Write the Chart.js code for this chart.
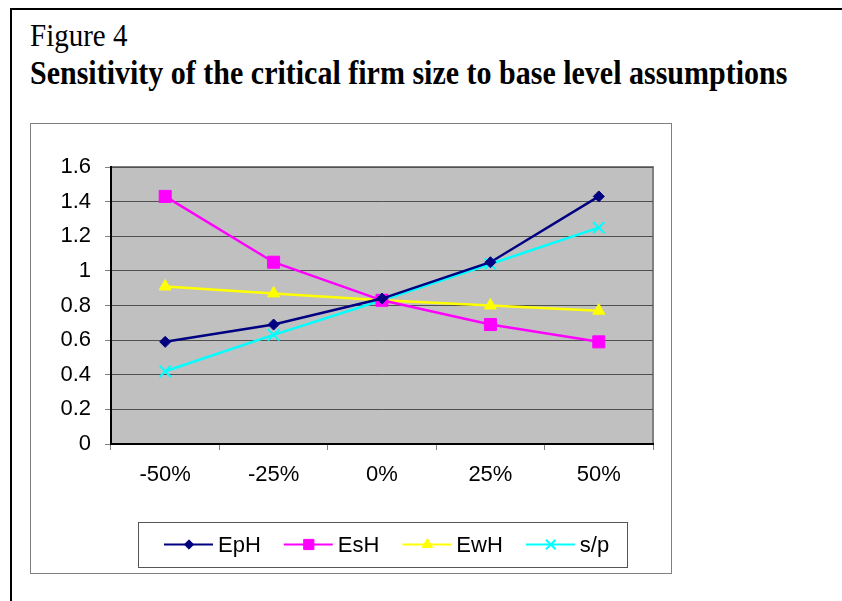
<!DOCTYPE html>
<html>
<head>
<meta charset="utf-8">
<script src="https://cdn.jsdelivr.net/npm/chart.js@4.4.0/dist/chart.umd.min.js"></script>
<style>
  body { margin: 0; background: #fff; width: 842px; height: 601px; overflow: hidden; position: relative; }
  #frame { position: absolute; left: 10px; top: 8px; width: 840px; height: 600px; border-left: 2px solid #000; border-top: 2px solid #000; }
  #fig { position: absolute; left: 30px; top: 20px; font-family: "Liberation Serif", "Times New Roman", serif; font-size: 29px; line-height: 1; color: #000; transform: scaleY(1.1); transform-origin: left top; }
  #title { position: absolute; left: 30px; top: 56px; font-family: "Liberation Serif", "Times New Roman", serif; font-size: 30px; line-height: 1; font-weight: bold; color: #000; white-space: nowrap; transform: scaleY(1.1); transform-origin: left top; }
  #box { position: absolute; left: 30px; top: 123px; width: 640px; height: 449px; border: 1px solid #808080; }
  #box canvas { position: absolute; left: 0; top: 0; }
</style>
</head>
<body>
<div id="frame"></div>
<div id="fig">Figure 4</div>
<div id="title">Sensitivity of the critical firm size to base level assumptions</div>
<div id="box"><canvas id="chart" width="640" height="449"></canvas></div>
<script>
const categories = ["-50%", "-25%", "0%", "25%", "50%"];
const eph = [0.59, 0.69, 0.84, 1.05, 1.43];
const esh = [1.43, 1.05, 0.83, 0.69, 0.59];
const ewh = [0.91, 0.87, 0.83, 0.80, 0.77];
const sp = [0.42, 0.63, 0.83, 1.04, 1.25];
const yTicks = [0, 0.2, 0.4, 0.6, 0.8, 1, 1.2, 1.4, 1.6];

// gray plot background + plot border
const plotBg = {
    id: "plotBg",
    beforeDraw(chart) {
        const { ctx, chartArea: a } = chart;
        ctx.save();
        ctx.fillStyle = "#c0c0c0";
        ctx.fillRect(a.left, a.top, a.right - a.left, a.bottom - a.top);
        ctx.strokeStyle = "#808080";
        ctx.lineWidth = 2;
        ctx.beginPath();
        ctx.moveTo(a.left, a.top);
        ctx.lineTo(a.right, a.top);
        ctx.lineTo(a.right, a.bottom);
        ctx.stroke();
        ctx.restore();
    }
};

// boxed legend with line + marker, drawn below the axis
const boxLegend = {
    id: "boxLegend",
    afterDraw(chart) {
        const ctx = chart.ctx;
        const left = 107, top = 398, right = 596, bottom = 443;
        const cy = (top + bottom) / 2;
        ctx.save();
        ctx.strokeStyle = "#555";
        ctx.lineWidth = 1;
        ctx.strokeRect(left + 0.5, top + 0.5, right - left, bottom - top);
        ctx.font = "22px 'Liberation Sans', Arial, sans-serif";
        ctx.textBaseline = "middle";
        let x = left + 26;
        chart.data.datasets.forEach(ds => {
            ctx.strokeStyle = ds.borderColor;
            ctx.lineWidth = 2;
            ctx.beginPath();
            ctx.moveTo(x, cy);
            ctx.lineTo(x + 49, cy);
            ctx.stroke();
            ctx.fillStyle = ds.backgroundColor;
            ctx.strokeStyle = ds.borderColor;
            ctx.lineWidth = ds.pointBorderWidth;
            Chart.helpers.drawPoint(ctx, {
                pointStyle: ds.pointStyle,
                radius: ds.pointRadius * 0.85,
                rotation: 0,
                borderWidth: ds.pointBorderWidth
            }, x + 25, cy);
            ctx.fillStyle = "#000";
            ctx.fillText(ds.label, x + 54, cy + 1);
            x += 54 + ctx.measureText(ds.label).width + 23;
        });
        ctx.restore();
    }
};

function series(label, data, color, style, radius) {
    return {
        label: label,
        data: data,
        borderColor: color,
        backgroundColor: color,
        pointBackgroundColor: color,
        pointBorderColor: color,
        pointBorderWidth: style === "crossRot" ? 2 : 1,
        borderWidth: 2.5,
        pointStyle: style,
        pointRadius: radius,
        tension: 0
    };
}

const ctx = document.getElementById("chart").getContext("2d");
new Chart(ctx, {
    type: "line",
    data: {
        labels: categories,
        datasets: [
            series("EpH", eph, "#000080", "rectRot", 5.5),
            series("EsH", esh, "#ff00ff", "rect", 8.5),
            series("EwH", ewh, "#ffff00", "triangle", 7),
            series("s/p", sp, "#00ffff", "crossRot", 8)
        ]
    },
    options: {
        responsive: false,
        animation: false,
        events: [],
        layout: { padding: { top: 43, right: 18, left: 0, bottom: 0 } },
        plugins: { legend: { display: false }, tooltip: { enabled: false } },
        scales: {
            x: {
                offset: true,
                afterFit: scale => { scale.height = 129; },
                grid: { offset: true, drawOnChartArea: false, drawTicks: true, tickLength: 6, color: "#808080" },
                border: { color: "#000", width: 2 },
                ticks: { color: "#000", padding: 12, font: { family: "'Liberation Sans', Arial", size: 22 } }
            },
            y: {
                min: 0,
                max: 1.6,
                afterFit: scale => { scale.width = 80; },
                afterBuildTicks: scale => { scale.ticks = yTicks.map(v => ({ value: v })); },
                grid: { color: "#505050", lineWidth: 1, tickLength: 6, tickColor: "#808080" },
                border: { color: "#000", width: 2 },
                ticks: {
                    color: "#000",
                    padding: 14,
                    font: { family: "'Liberation Sans', Arial", size: 22 },
                    callback: v => String(v)
                }
            }
        }
    },
    plugins: [plotBg, boxLegend]
});
</script>
</body>
</html>
